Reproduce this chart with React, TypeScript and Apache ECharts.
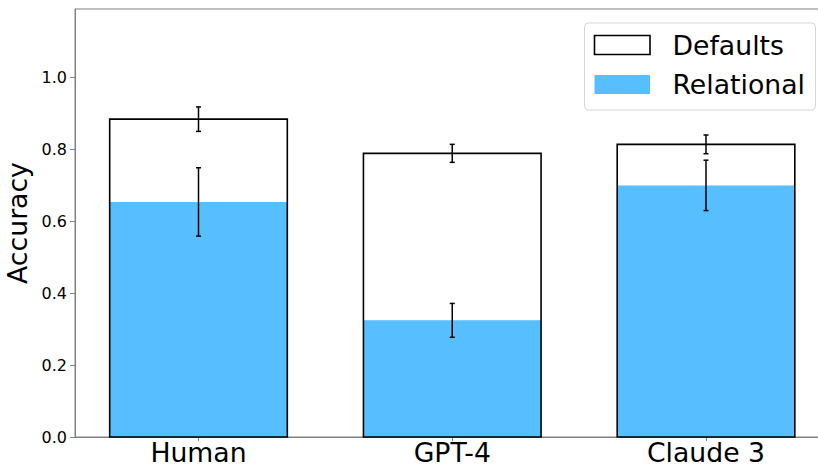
import React, { useEffect, useRef } from "react";
import * as echarts from "echarts";

const categories = ["Human", "GPT-4", "Claude 3"];
const defaultsAcc = [0.883, 0.788, 0.813];
const defaultsErr = [0.034, 0.025, 0.026];
const relationalAcc = [0.653, 0.324, 0.699];
const relationalErr = [0.095, 0.047, 0.07];
const yTicks = [0, 0.2, 0.4, 0.6, 0.8, 1.0];
const xTicks = [0, 1, 2];

const BLUE = "#57bfff";
const FONT = "DejaVu Sans";
const AXIS = "#808080";
const HALF = 0.35;

function barSeries(name: string, values: number[], fill: string, stroke: string | null, z: number) {
  return {
    type: "custom",
    name,
    z,
    encode: { x: 0, y: 1 },
    data: values.map((v, i) => [i, v]),
    renderItem: (params: any, api: any) => {
      const x = api.value(0);
      const v = api.value(1);
      const p1 = api.coord([x - HALF, v]);
      const p2 = api.coord([x + HALF, 0]);
      return {
        type: "rect",
        shape: { x: p1[0], y: p1[1], width: p2[0] - p1[0], height: p2[1] - p1[1] },
        style: stroke
          ? { fill: "none", stroke, lineWidth: 1.6 }
          : { fill, stroke: "none" },
      };
    },
  };
}

function errSeries(name: string, values: number[], errs: number[], z: number) {
  return {
    type: "custom",
    name,
    z,
    encode: { x: 0, y: 1 },
    data: values.map((v, i) => [i, v, errs[i]]),
    renderItem: (params: any, api: any) => {
      const x = api.value(0);
      const c = api.value(1);
      const e = api.value(2);
      const top = api.coord([x, c + e]);
      const bot = api.coord([x, c - e]);
      const cap = 2.5;
      const st = { stroke: "#000", lineWidth: 1.5 };
      return {
        type: "group",
        children: [
          { type: "line", shape: { x1: top[0], y1: top[1], x2: bot[0], y2: bot[1] }, style: st },
          { type: "line", shape: { x1: top[0] - cap, y1: top[1], x2: top[0] + cap, y2: top[1] }, style: st },
          { type: "line", shape: { x1: bot[0] - cap, y1: bot[1], x2: bot[0] + cap, y2: bot[1] }, style: st },
        ],
      };
    },
  };
}

export default function App() {
  const ref = useRef<HTMLDivElement>(null);
  useEffect(() => {
    if (!ref.current) return;
    const chart = echarts.init(ref.current, null, { renderer: "svg" });
    chart.setOption({
      animation: false,
      backgroundColor: "#fff",
      grid: {
        left: 75,
        top: 9,
        width: 754.5,
        height: 428,
        show: true,
        borderColor: AXIS,
        borderWidth: 1,
        backgroundColor: "transparent",
        containLabel: false,
        outerBoundsMode: "none",
      },
      xAxis: {
        type: "value",
        min: -0.4867,
        max: 2.4867,
        axisLine: { show: true, onZero: false, lineStyle: { color: AXIS, width: 1 } },
        splitLine: { show: false },
        axisTick: { show: true, customValues: xTicks, length: 4, lineStyle: { color: AXIS } },
        axisLabel: {
          customValues: xTicks,
          formatter: (v: number) => categories[Math.round(v)] ?? "",
          fontFamily: FONT,
          fontSize: 26.7,
          lineHeight: 22,
          color: "#000",
          margin: 4,
        },
      },
      yAxis: {
        type: "value",
        min: 0,
        max: 1.189,
        name: "Accuracy",
        nameLocation: "middle",
        nameGap: 40,
        nameTextStyle: { fontFamily: FONT, fontSize: 26.7, color: "#000" },
        axisLine: { show: true, onZero: false, lineStyle: { color: AXIS, width: 1 } },
        splitLine: { show: false },
        axisTick: { show: true, customValues: yTicks, length: 5, lineStyle: { color: AXIS } },
        axisLabel: {
          customValues: yTicks,
          formatter: (v: number) => v.toFixed(1),
          fontFamily: FONT,
          fontSize: 16,
          color: "#000",
          margin: 8,
        },
      },
      series: [
        barSeries("Defaults", defaultsAcc, "#fff", null, 1),
        barSeries("Relational", relationalAcc, BLUE, null, 2),
        barSeries("Defaults outline", defaultsAcc, "none", "#000", 3),
        errSeries("Defaults error", defaultsAcc, defaultsErr, 4),
        errSeries("Relational error", relationalAcc, relationalErr, 4),
      ],
      graphic: [
        {
          type: "group",
          x: 584.5,
          y: 23,
          z: 100,
          children: [
            {
              type: "rect",
              shape: { x: 0, y: 0, width: 231, height: 87, r: 4 },
              style: { fill: "rgba(255,255,255,0.8)", stroke: "#d6d6d6", lineWidth: 1 },
            },
            {
              type: "rect",
              shape: { x: 10, y: 12.5, width: 55.5, height: 19 },
              style: { fill: "#fff", stroke: "#000", lineWidth: 1.6 },
            },
            {
              type: "rect",
              shape: { x: 10, y: 52, width: 55.5, height: 19 },
              style: { fill: BLUE },
            },
            {
              type: "text",
              style: {
                text: "Defaults",
                x: 88,
                y: 22,
                fontFamily: FONT,
                fontSize: 26.7,
                fill: "#000",
                verticalAlign: "middle",
                align: "left",
              },
            },
            {
              type: "text",
              style: {
                text: "Relational",
                x: 88,
                y: 61.5,
                fontFamily: FONT,
                fontSize: 26.7,
                fill: "#000",
                verticalAlign: "middle",
                align: "left",
              },
            },
          ],
        },
      ],
    });
    return () => chart.dispose();
  }, []);
  return <div ref={ref} style={{ width: 818, height: 466, position: "fixed", left: 0, top: 0 }} />;
}
